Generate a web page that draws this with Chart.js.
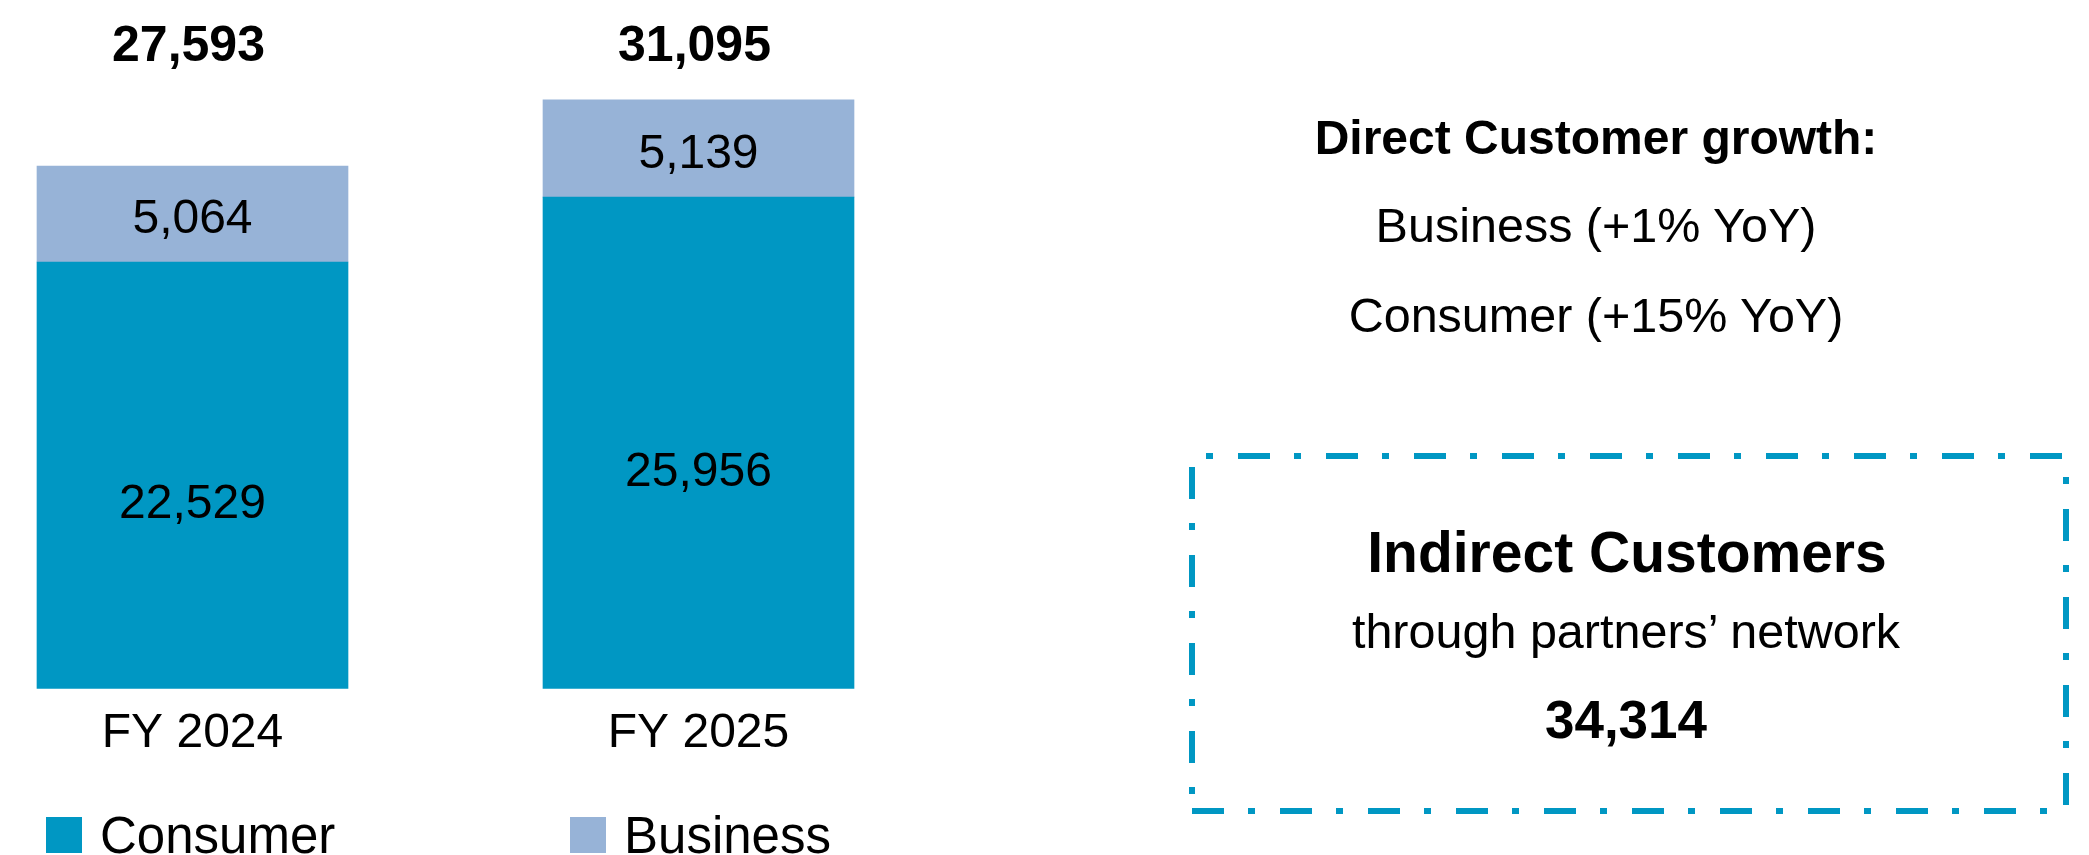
<!DOCTYPE html>
<html>
<head>
<meta charset="utf-8">
<title>Direct and indirect customers</title>
<script src="https://cdn.jsdelivr.net/npm/chart.js@4.4.1/dist/chart.umd.min.js"></script>
<style>
  html, body { margin: 0; padding: 0; background: #fff; }
  #wrap { position: relative; width: 2089px; height: 855px; overflow: hidden;
          font-family: 'Liberation Sans', Arial, sans-serif; color: #000; }
  #chart { position: absolute; left: 0; top: 0; }
  .txt { position: absolute; transform: translate(-50%, -50%); white-space: nowrap; line-height: 1; }
  .legend-item { position: absolute; top: 817px; height: 36px; display: flex; align-items: center; }
  .legend-box { width: 36px; height: 36px; margin-right: 18px; }
  .legend-text { font-size: 51px; line-height: 1; }
</style>
</head>
<body>
<div id="wrap">
  <canvas id="chart" width="2089" height="855"></canvas>
  <div id="notes"></div>
  <div id="legend"></div>
</div>
<script>
const categories = ['FY 2024', 'FY 2025'];
const consumer = [22529, 25956];
const business = [5064, 5139];
const growthTitle = 'Direct Customer growth:';
const growthLines = ['Business (+1% YoY)', 'Consumer (+15% YoY)'];
const indirectTitle = 'Indirect Customers';
const indirectSub = 'through partners\u2019 network';
const indirectCustomers = 34314;

const family = "'Liberation Sans', Arial, sans-serif";
const consumerColor = '#0097c3';
const businessColor = '#97b3d7';

Chart.defaults.font.family = family;
Chart.defaults.color = '#000';

const fmt = v => v.toLocaleString('en-US');

// numbers inside the bars and the totals above them
const valueLabels = {
  id: 'valueLabels',
  afterDatasetsDraw(chart) {
    const ctx = chart.ctx;
    ctx.save();
    ctx.fillStyle = '#000';
    ctx.textAlign = 'center';
    ctx.textBaseline = 'middle';
    ctx.font = '48px ' + family;
    chart.data.datasets.forEach((ds, i) => {
      chart.getDatasetMeta(i).data.forEach((bar, j) => {
        const shift = i === 0 ? 30 : 6; // consumer numbers sit below the middle
        ctx.fillText(fmt(ds.data[j]), bar.x, (bar.y + bar.base) / 2 + shift);
      });
    });
    ctx.font = 'bold 50px ' + family;
    chart.getDatasetMeta(0).data.forEach((bar, j) => {
      ctx.fillText(fmt(consumer[j] + business[j]), bar.x - 4, 47);
    });
    ctx.restore();
  }
};

// dash-dot frame round the indirect customers note
const dashBox = {
  id: 'dashBox',
  afterDraw(chart) {
    const ctx = chart.ctx;
    const sides = [
      [1192, 456, 2066, 456, 42],
      [1192, 811, 2066, 811, 0],
      [1192, 456, 1192, 811, 77],
      [2066, 456, 2066, 811, 35]
    ];
    ctx.save();
    ctx.strokeStyle = consumerColor;
    ctx.lineWidth = 6;
    ctx.setLineDash([32, 24, 7, 25]);
    sides.forEach(s => {
      ctx.lineDashOffset = s[4];
      ctx.beginPath();
      ctx.moveTo(s[0], s[1]);
      ctx.lineTo(s[2], s[3]);
      ctx.stroke();
    });
    ctx.restore();
  }
};

const chart = new Chart(document.getElementById('chart'), {
  type: 'bar',
  data: {
    labels: categories,
    datasets: [
      { label: 'Consumer', data: consumer, backgroundColor: consumerColor, barThickness: 311, clip: false },
      { label: 'Business', data: business, backgroundColor: businessColor, barThickness: 311, clip: false }
    ]
  },
  options: {
    responsive: false,
    animation: false,
    devicePixelRatio: 1,
    layout: { padding: { left: 192.5, right: 1390.5, top: 7, bottom: 75 } },
    plugins: {
      legend: { display: false },
      tooltip: { enabled: false }
    },
    scales: {
      x: {
        stacked: true,
        offset: false,
        grid: { display: false, drawTicks: false },
        border: { display: false },
        ticks: { font: { size: 48 }, padding: 17, maxRotation: 0, autoSkip: false }
      },
      y: { stacked: true, display: false, min: 0, max: 36000 }
    }
  },
  plugins: [valueLabels, dashBox]
});

// html legend from the datasets
const legendLeft = [46, 570];
const legend = document.getElementById('legend');
chart.data.datasets.forEach((ds, i) => {
  const item = document.createElement('div');
  item.className = 'legend-item';
  item.style.left = legendLeft[i] + 'px';
  item.innerHTML = '<div class="legend-box" style="background:' + ds.backgroundColor + '"></div>' +
    '<span class="legend-text">' + ds.label + '</span>';
  legend.appendChild(item);
});

// notes on the right
const notes = [
  [growthTitle, 1596, 138, 48, 'bold'],
  [growthLines[0], 1596, 225, 48.5, 'normal'],
  [growthLines[1], 1596, 315, 48.5, 'normal'],
  [indirectTitle, 1627, 552, 57, 'bold'],
  [indirectSub, 1626, 631, 48.5, 'normal'],
  [fmt(indirectCustomers), 1626, 719, 53, 'bold']
];
const notesEl = document.getElementById('notes');
notes.forEach(n => {
  const d = document.createElement('div');
  d.className = 'txt';
  d.textContent = n[0];
  d.style.left = n[1] + 'px';
  d.style.top = n[2] + 'px';
  d.style.fontSize = n[3] + 'px';
  d.style.fontWeight = n[4];
  notesEl.appendChild(d);
});
</script>
</body>
</html>
